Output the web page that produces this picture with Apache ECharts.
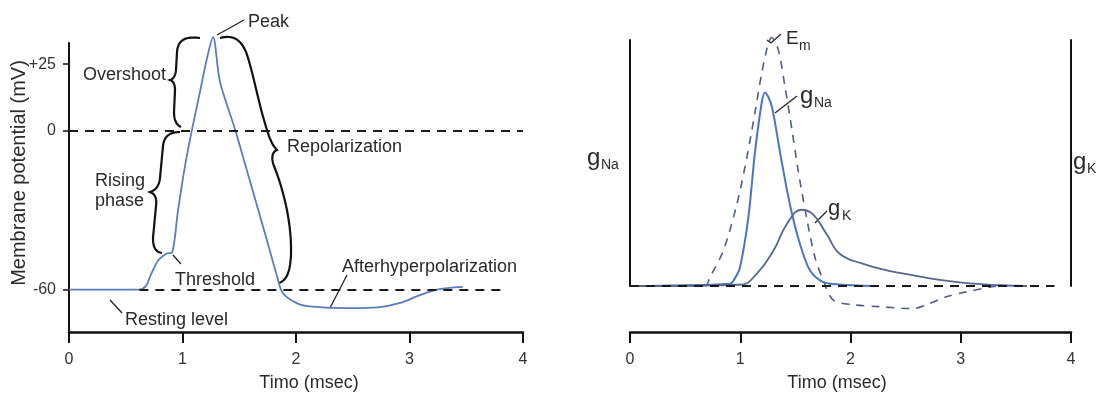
<!DOCTYPE html>
<html>
<head>
<meta charset="utf-8">
<script src="https://cdn.jsdelivr.net/npm/echarts@6/dist/echarts.min.js"></script>
<style>
  html, body { margin: 0; padding: 0; background: #fff; }
  #chart { width: 1098px; height: 397px; }
</style>
</head>
<body>
<div id="chart"></div>
<script>
// left panel: membrane potential during an action potential
var apTime = [0, 0.62, 0.68, 0.714, 0.784, 0.863, 0.907, 0.96, 1.02, 1.084, 1.154, 1.216, 1.269,
  1.33, 1.463, 1.62, 1.745, 1.833, 1.885, 2.01, 2.12, 2.48, 2.72, 2.92, 3.07, 3.24, 3.47];
var apMv = [-60, -60, -58.5, -55.1, -49.1, -46.4, -46.1, -30.3, -13.9, 0.4, 14.6, 27.3, 35.2,
  18.4, 0.4, -22.9, -41.6, -55, -61.4, -65.2, -66.3, -67, -66.7, -65, -62.5, -60, -59];

// right panel: conductances and Em (arbitrary units, baseline = 0)
var gNaTime = [0, 0.907, 0.95, 0.998, 1.073, 1.134, 1.195, 1.224, 1.285, 1.36, 1.451, 1.542, 1.633, 1.753, 1.9, 2.2];
var gNaValue = [0, 0.9, 3, 7.6, 27.7, 54.5, 74.6, 78.7, 73.2, 54.5, 33, 17, 6.3, 1.6, 0.6, 0];

var gKTime = [0, 1.0, 1.149, 1.30, 1.421, 1.557, 1.663, 1.784, 1.905, 2.116, 2.36, 2.51, 2.81, 3.05, 3.36, 3.6];
var gKValue = [0, 0.5, 4.9, 14.3, 25, 31, 29, 21, 13, 9, 6, 4.8, 2.5, 1.2, 0.3, 0];

var emTime = [0, 0.68, 0.726, 0.846, 0.968, 1.058, 1.134, 1.195, 1.255, 1.285, 1.345, 1.406, 1.467, 1.527,
  1.602, 1.678, 1.753, 1.844, 2.02, 2.27, 2.57, 2.69, 2.87, 3.05, 3.26, 3.33];
var emValue = [0, 0, 3.6, 14.3, 33, 51.8, 70.6, 86.6, 98.7, 101, 96, 81, 64, 46.5,
  27.7, 11.6, 2.3, -5.7, -7.6, -8.4, -9.2, -7.6, -4.4, -2.4, -0.5, 0];

var timeTicks = [0, 1, 2, 3, 4];
var mvTicks = [-60, 0, 25];

var font = '"Liberation Sans", Arial, Helvetica, sans-serif';
var ink = '#2a2a2a';

function pairs(xs, ys) {
  return xs.map(function (x, i) { return [x, ys[i]]; });
}

// tiny path sampler (M / L / C, absolute) -> polyline points
function pathPoints(d) {
  var tok = d.match(/[MLC]|-?\d+(\.\d+)?/g);
  var pts = [], i = 0, cmd, cx = 0, cy = 0;
  while (i < tok.length) {
    if (/[MLC]/.test(tok[i])) { cmd = tok[i]; i++; continue; }
    if (cmd === 'M' || cmd === 'L') {
      cx = +tok[i]; cy = +tok[i + 1]; i += 2;
      pts.push([cx, cy]);
    } else {
      var x1 = +tok[i], y1 = +tok[i + 1], x2 = +tok[i + 2], y2 = +tok[i + 3], x3 = +tok[i + 4], y3 = +tok[i + 5];
      i += 6;
      for (var k = 1; k <= 14; k++) {
        var t = k / 14, u = 1 - t;
        pts.push([
          u * u * u * cx + 3 * u * u * t * x1 + 3 * u * t * t * x2 + t * t * t * x3,
          u * u * u * cy + 3 * u * u * t * y1 + 3 * u * t * t * y2 + t * t * t * y3
        ]);
      }
      cx = x3; cy = y3;
    }
  }
  return pts;
}

function brace(d) {
  return { type: 'polyline', silent: true, shape: { points: pathPoints(d) },
    style: { stroke: '#111', fill: null, lineWidth: 2.2 } };
}
function leader(points) {
  return { type: 'polyline', silent: true, shape: { points: points },
    style: { stroke: '#222', fill: null, lineWidth: 1.3 } };
}
function label(x, y, s, size, rotation) {
  var el = { type: 'text', x: x, y: y, silent: true,
    style: { text: s, font: size + 'px ' + font, fill: ink,
      align: 'left', verticalAlign: 'middle', textAlign: 'left', textVerticalAlign: 'middle' } };
  if (rotation) {
    el.rotation = rotation;
    el.style.align = el.style.textAlign = 'center';
  }
  return el;
}

var dashLine = { type: [9, 7], color: '#1a1a1a', width: 2 };

var axisText = { fontSize: 16, color: '#333', fontFamily: font };

var option = {
  animation: false,
  backgroundColor: '#fff',
  grid: [
    { left: 69, right: 575, top: 43, bottom: 63 },
    { left: 630, right: 27, top: 40, bottom: 108 }
  ],
  xAxis: [
    {
      gridIndex: 0, type: 'value', min: 0, max: 4, interval: 1,
      axisLine: { show: true, onZero: false, lineStyle: { color: '#111', width: 2.5 } },
      axisTick: { show: true, length: 11, lineStyle: { color: '#111', width: 2 } },
      axisLabel: Object.assign({ margin: 20 }, axisText),
      splitLine: { show: false },
      name: 'Timo (msec)', nameLocation: 'middle', nameGap: 42,
      nameTextStyle: { fontSize: 18, color: ink, fontFamily: font, padding: [0, 0, 0, 26] }
    },
    {
      gridIndex: 1, type: 'value', min: 0, max: 4, interval: 1, offset: 46,
      axisLine: { show: true, onZero: false, lineStyle: { color: '#111', width: 2.5 } },
      axisTick: { show: true, length: 11, lineStyle: { color: '#111', width: 2 } },
      axisLabel: Object.assign({ margin: 20 }, axisText),
      splitLine: { show: false },
      name: 'Timo (msec)', nameLocation: 'middle', nameGap: 42,
      nameTextStyle: { fontSize: 18, color: ink, fontFamily: font, padding: [0, 27, 0, 0] }
    }
  ],
  yAxis: [
    {
      gridIndex: 0, type: 'value', min: -76, max: 33,
      axisLine: { show: true, onZero: false, lineStyle: { color: '#111', width: 2 } },
      axisTick: { show: true, length: 6, customValues: mvTicks, lineStyle: { color: '#111', width: 1.5 } },
      axisLabel: Object.assign({
        margin: 13, customValues: mvTicks,
        formatter: function (v) { return v > 0 ? '+' + v : String(v); }
      }, axisText),
      splitLine: { show: false }
    },
    {
      gridIndex: 1, type: 'value', min: 0, max: 100,
      axisLine: { show: true, onZero: false, lineStyle: { color: '#111', width: 2 } },
      axisTick: { show: false }, axisLabel: { show: false }, splitLine: { show: false }
    },
    {
      gridIndex: 1, type: 'value', min: 0, max: 100, position: 'right',
      axisLine: { show: true, onZero: false, lineStyle: { color: '#111', width: 2 } },
      axisTick: { show: false }, axisLabel: { show: false }, splitLine: { show: false }
    }
  ],
  series: [
    {
      name: 'Em', type: 'line', xAxisIndex: 0, yAxisIndex: 0,
      data: pairs(apTime, apMv), symbol: 'none', smooth: 0.3, clip: false,
      lineStyle: { color: '#5a7cc0', width: 1.8 },
      markLine: {
        silent: true, symbol: ['none', 'none'], label: { show: false }, lineStyle: dashLine,
        data: [
          [{ coord: [0, 0] }, { coord: [4, 0] }],
          [{ coord: [0.62, -60] }, { coord: [3.85, -60] }]
        ]
      }
    },
    {
      name: 'Em (right)', type: 'line', xAxisIndex: 1, yAxisIndex: 1,
      data: pairs(emTime, emValue), symbol: 'none', smooth: 0.3, clip: false,
      lineStyle: { color: '#4f5d8c', width: 1.6, type: [8, 7] }
    },
    {
      name: 'gNa', type: 'line', xAxisIndex: 1, yAxisIndex: 1,
      data: pairs(gNaTime, gNaValue), symbol: 'none', smooth: 0.3, clip: false,
      lineStyle: { color: '#4876c4', width: 2 },
      markLine: {
        silent: true, symbol: ['none', 'none'], label: { show: false }, lineStyle: dashLine,
        data: [[{ coord: [0, 0] }, { coord: [3.85, 0] }]]
      }
    },
    {
      name: 'gK', type: 'line', xAxisIndex: 1, yAxisIndex: 1,
      data: pairs(gKTime, gKValue), symbol: 'none', smooth: 0.45, clip: false,
      lineStyle: { color: '#56678f', width: 1.8 }
    }
  ],
  graphic: [
    // left panel annotations
    brace('M200,38 C185,36 178,40 177,52 L176,70 C175,77 173,79 170,80 C173,81 175,84 175,90 L174,112 C174,121 177,125 181,127'),
    brace('M180,132 C170,132 164,136 163,146 L160,178 C159,186 156,190 150,192 C155,194 157,198 156,206 L153,238 C153,248 156,252 162,253'),
    brace('M220,38 C232,35 240,38 246,52 C252,68 258,100 264,120 C268,134 271,144 277,150 C272,152 271,158 274,166 C282,186 292,220 291,255 C290,272 287,280 279,283'),
    leader([[217, 35], [244, 20]]),
    leader([[173, 255], [181, 264]]),
    leader([[110, 300], [122, 313]]),
    leader([[330, 308], [347, 275]]),
    label(248, 22, 'Peak', 18),
    label(83, 75, 'Overshoot', 18),
    label(95, 181, 'Rising', 18),
    label(95, 201, 'phase', 18),
    label(287, 147, 'Repolarization', 18),
    label(175, 280, 'Threshold', 18),
    label(125, 320, 'Resting level', 18),
    label(342, 267, 'Afterhyperpolarization', 18),
    label(19, 173, 'Membrane potential (mV)', 20, Math.PI / 2),
    // right panel annotations
    leader([[767, 40], [771, 43], [781, 34]]),
    leader([[775, 113], [797, 96]]),
    leader([[815, 223], [827, 211]]),
    label(786, 39, 'E', 19),
    label(799, 46, 'm', 14),
    label(800, 96, 'g', 24),
    label(814, 103, 'Na', 14),
    label(828, 209, 'g', 22),
    label(842, 216, 'K', 14),
    label(587, 158, 'g', 24),
    label(601, 165, 'Na', 14),
    label(1073, 162, 'g', 24),
    label(1087, 169, 'K', 14)
  ]
};

var chart = echarts.init(document.getElementById('chart'));
chart.setOption(option);
window.addEventListener('resize', function () { chart.resize(); });
</script>
</body>
</html>
